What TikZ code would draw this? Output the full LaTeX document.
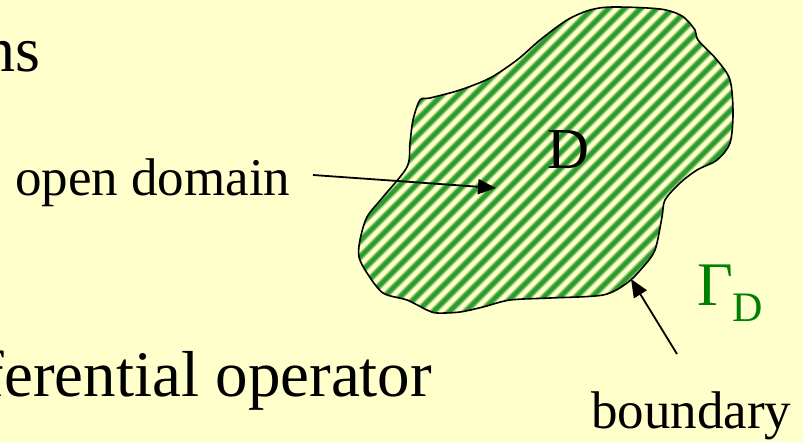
\documentclass[tikz,border=0pt]{standalone}
\usepackage{fontspec}
\setmainfont{Liberation Serif}
\usetikzlibrary{arrows.meta}
\definecolor{bgyellow}{HTML}{FFFFCC}
\definecolor{stripegreen}{HTML}{2E9C2E}
\definecolor{gammagreen}{HTML}{008000}
\tikzset{
  txt/.style={inner sep=0pt, outer sep=0pt, text=black},
  arr/.style={-{Triangle[length=18pt,width=15pt]}, line width=1.8pt, black},
  halo/.style={line width=7pt, color=stripegreen!50!bgyellow},
  stripe/.style={line width=4pt, color=stripegreen},
  outline/.style={line width=1.6pt, black}
}
\begin{document}
\begin{tikzpicture}[x=1pt, y=-1pt]
\useasboundingbox (0,0) rectangle (803,442);
\fill[bgyellow] (0,0) rectangle (803,442);
\def\domainpath{plot[smooth cycle, tension=0.5] coordinates {
  (613,7) (660,9) (682,16) (695,30) (698,40) (717,60) (730,80) (733,113)
  (730,143) (717,160) (697,170) (680,183) (665,200) (662,217) (655,250)
  (643,267) (627,283) (603,295) (550,298) (510,300) (483,307) (460,312)
  (437,313) (427,310) (407,300) (383,293) (367,273) (359,257) (360,240)
  (367,217) (383,197) (407,167) (410,143) (413,120) (420,100) (430,98)
  (460,90) (490,78) (517,60) (540,40) (567,20) (590,10)}}
\begin{scope}
  \clip \domainpath;
  \foreach \c in {350,366,...,1090} {
    \draw[halo] (\c,-5) -- (\c-330,325);
  }
  \foreach \c in {350,366,...,1090} {
    \draw[stripe] (\c,-5) -- (\c-330,325);
  }
\end{scope}
\draw[outline] \domainpath;

\node[txt, anchor=base east, font=\fontsize{64}{70}\selectfont] (ns) at (40,71) {ns};
\node[txt, anchor=base east, font=\fontsize{65}{72}\selectfont] (operator) at (432,396) {ferential operator};
\node[txt, anchor=base west, font=\fontsize{53}{58}\selectfont] (opendomain) at (15,195) {open domain};
\node[txt, anchor=base west, font=\fontsize{58}{64}\selectfont] (D) at (547,168) {D};
\node[txt, anchor=base west, text=gammagreen, font=\fontsize{62}{68}\selectfont] (gamma) at (697,305)
  {Γ\raisebox{-16pt}{\fontsize{42}{46}\selectfont D}};
\node[txt, anchor=base west, font=\fontsize{53}{58}\selectfont] (boundary) at (591,428) {boundary};

\coordinate (odtail) at (313,175);
\coordinate (odtip) at (496,188);
\coordinate (bdtail) at (677,354);
\coordinate (bdtip) at (631,279);
\draw[arr] (odtail) -- (odtip);
\draw[arr] (bdtail) -- (bdtip);
\end{tikzpicture}
\end{document}
